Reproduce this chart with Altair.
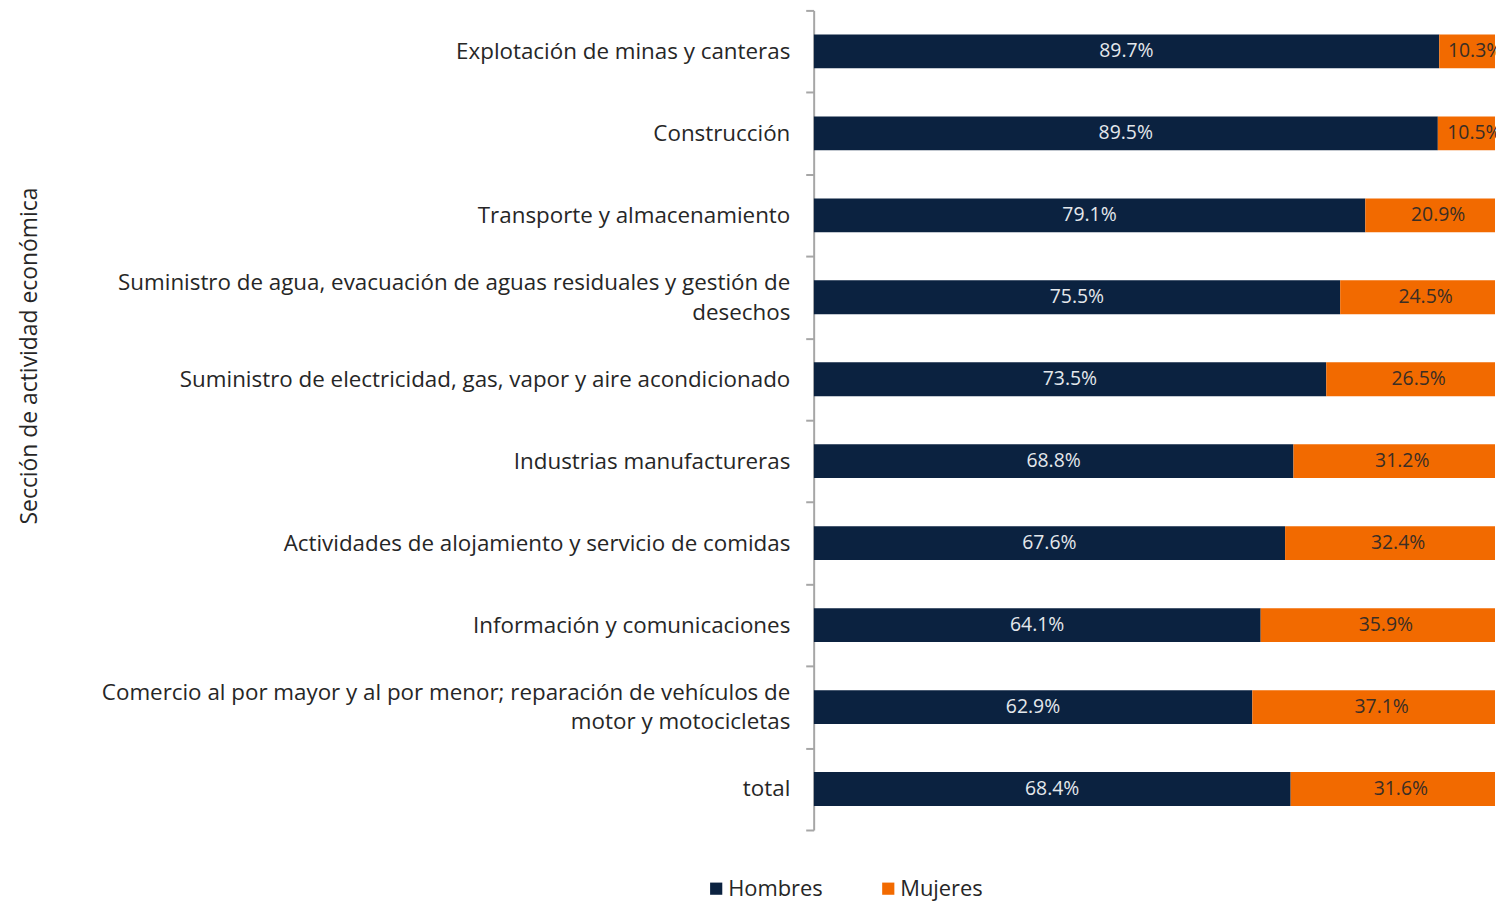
import altair as alt
import pandas as pd

categorias = [
    "Explotación de minas y canteras",
    "Construcción",
    "Transporte y almacenamiento",
    "Suministro de agua, evacuación de aguas residuales y gestión de desechos",
    "Suministro de electricidad, gas, vapor y aire acondicionado",
    "Industrias manufactureras",
    "Actividades de alojamiento y servicio de comidas",
    "Información y comunicaciones",
    "Comercio al por mayor y al por menor; reparación de vehículos de motor y motocicletas",
    "total",
]
hombres = [89.7, 89.5, 79.1, 75.5, 73.5, 68.8, 67.6, 64.1, 62.9, 68.4]
mujeres = [10.3, 10.5, 20.9, 24.5, 26.5, 31.2, 32.4, 35.9, 37.1, 31.6]
series = ["Hombres", "Mujeres"]
colores = ["#0b2240", "#f26a00"]

# line breaks for long labels
saltos = {
    "Suministro de agua, evacuación de aguas residuales y gestión de desechos":
        ["Suministro de agua, evacuación de aguas residuales y gestión de", "desechos"],
    "Comercio al por mayor y al por menor; reparación de vehículos de motor y motocicletas":
        ["Comercio al por mayor y al por menor; reparación de vehículos de", "motor y motocicletas"],
}

rows = []
for c, h, m in zip(categorias, hombres, mujeres):
    rows.append({"cat": c, "serie": "Hombres", "orden": 0, "valor": h})
    rows.append({"cat": c, "serie": "Mujeres", "orden": 1, "valor": m})
df = pd.DataFrame(rows)

expr = "datum.label"
for k, v in saltos.items():
    arr = "[" + ", ".join("'" + s + "'" for s in v) + "]"
    expr = f"datum.label == '{k}' ? {arr} : ({expr})"
lista = "[" + ", ".join("'" + k + "'" for k in saltos) + "]"

FONT = "Open Sans"

base = alt.Chart(df).transform_stack(
    stack="valor", groupby=["cat"], as_=["v0", "v1"], sort=[alt.SortField("orden")]
).transform_calculate(
    mid="(datum.v0 + datum.v1) / 2",
    etiqueta="format(datum.valor, '.1f') + '%'",
)

yenc = alt.Y(
    "cat:N",
    sort=categorias,
    scale=alt.Scale(paddingInner=0, paddingOuter=0),
    axis=alt.Axis(
        title="Sección de actividad económica",
        titleFont=FONT, titleFontSize=23, titleFontWeight="normal", titleColor="#262626",
        titleAngle=270, titleX=-788, titleY=347, titleAlign="center", titleBaseline="middle",
        labelFont=FONT, labelFontSize=22.5, labelColor="#262626", labelLimit=800,
        labelLineHeight=30, labelPadding=16, labelExpr=expr,
        labelOffset={"condition": {"test": f"indexof({lista}, datum.value) >= 0", "value": -15}, "value": 0},
        tickBand="extent", tickSize=8, tickColor="#a6a6a6", tickWidth=2,
        domainColor="#a6a6a6", domainWidth=2, grid=False,
    ),
)

xscale = alt.Scale(domain=[0, 97.7], zero=True, nice=False)

bars = base.mark_bar(height=34, clip=True).encode(
    x=alt.X("v0:Q", scale=xscale, axis=None),
    x2="v1:Q",
    y=yenc,
    color=alt.Color(
        "serie:N",
        scale=alt.Scale(domain=series, range=colores),
        legend=alt.Legend(
            title=None, orient="none", direction="horizontal", legendX=-109, legendY=872,
            labelFont=FONT, labelFontSize=22, labelColor="#262626",
            symbolType="square", symbolSize=150, symbolStrokeWidth=0,
            columnPadding=54, labelOffset=1,
        ),
    ),
)

texts = base.mark_text(font=FONT, fontSize=19.5, baseline="middle", align="center").encode(
    x=alt.X("mid:Q", scale=xscale, axis=None),
    y=alt.Y("cat:N", sort=categorias),
    text="etiqueta:N",
    color=alt.condition(alt.datum.serie == "Hombres", alt.value("#e4e8ec"), alt.value("#3a2e25")),
)

chart = alt.layer(bars, texts).properties(
    width=685, height=824,
    autosize=alt.AutoSizeParams(type="none"),
    padding={"left": 810, "top": 0, "right": 1, "bottom": 75},
).configure_view(stroke=None)

chart.save("out.html", embed_options={"renderer": "svg", "actions": False})
